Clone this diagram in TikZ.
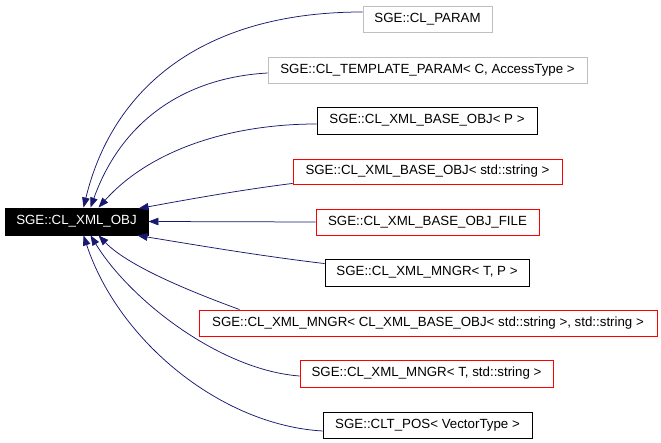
\documentclass[tikz,border=0pt]{standalone}
\usepackage{fontspec}
\setmainfont{Liberation Sans}
\usetikzlibrary{arrows.meta,calc}
\definecolor{edgeblue}{HTML}{191970}
\definecolor{boxgray}{HTML}{BFBFBF}
\definecolor{boxred}{HTML}{FF0000}
\begin{document}
\begin{tikzpicture}[x=1pt,y=-1pt,
  cls/.style={draw,rectangle,inner sep=0pt,line width=0.9pt,font=\fontsize{13.3}{15}\selectfont},
  grayc/.style={cls,draw=boxgray},
  redc/.style={cls,draw=boxred},
  blackc/.style={cls,draw=black},
  rootc/.style={cls,draw=black,fill=black,text=white},
  edge/.style={draw=edgeblue,line width=0.75pt,-{Triangle[length=10pt,width=7.5pt,fill=edgeblue]}}]
\useasboundingbox[fill=white] (0,0) rectangle (661,443);
\node[rootc,minimum width=143pt,minimum height=27pt] (root) at (76.5,221.5) {SGE::CL\_XML\_OBJ};
\node[grayc,minimum width=129pt,minimum height=26pt] (param) at (427.5,19) {SGE::CL\_PARAM};
\node[grayc,minimum width=319pt,minimum height=26pt] (tparam) at (427.5,70) {SGE::CL\_TEMPLATE\_PARAM< C, AccessType >};
\node[blackc,minimum width=220pt,minimum height=27pt] (basep) at (427,120.5) {SGE::CL\_XML\_BASE\_OBJ< P >};
\node[redc,minimum width=269pt,minimum height=25pt] (bases) at (427.5,171.5) {SGE::CL\_XML\_BASE\_OBJ< std::string >};
\node[redc,minimum width=223pt,minimum height=26pt] (bfile) at (427.5,222) {SGE::CL\_XML\_BASE\_OBJ\_FILE};
\node[blackc,minimum width=204pt,minimum height=27pt] (mtp) at (427,272.5) {SGE::CL\_XML\_MNGR< T, P >};
\node[redc,minimum width=458pt,minimum height=26pt] (mbig) at (428,323) {SGE::CL\_XML\_MNGR< CL\_XML\_BASE\_OBJ< std::string >, std::string >};
\node[redc,minimum width=253pt,minimum height=27pt] (mts) at (426.5,373.5) {SGE::CL\_XML\_MNGR< T, std::string >};
\node[blackc,minimum width=209pt,minimum height=26pt] (pos) at (427.5,425) {SGE::CLT\_POS< VectorType >};
% edges
\draw[edge] ($(param.west)+(0,-7)$) .. controls (200,12) and (112,90) .. ($(root.north west)+(79,0)$);
\draw[edge] ($(tparam.west)+(0,3)$) .. controls (180,78) and (120,125) .. ($(root.north west)+(86,0)$);
\draw[edge] ($(basep.west)+(0,3.5)$) .. controls (230,124) and (150,150) .. ($(root.north west)+(94,0)$);
\draw[edge] ($(bases.south west)+(0,-1)$) .. controls (240,190) and (185,200) .. ($(root.north west)+(134,1)$);
\draw[edge] (bfile.west) -- (root.east);
\draw[edge] ($(mtp.north west)+(0,5)$) .. controls (260,256) and (190,244) .. ($(root.south west)+(133,0)$);
\draw[edge] ($(mbig.north west)+(41,0)$) .. controls (200,295) and (130,268) .. ($(root.south west)+(94,0)$);
\draw[edge] ($(mts.west)+(0,2.5)$) .. controls (220,370) and (130,300) .. ($(root.south west)+(86,0)$);
\draw[edge] ($(pos.west)+(0,6)$) .. controls (220,425) and (118,340) .. ($(root.south west)+(79,0)$);
\end{tikzpicture}
\end{document}
